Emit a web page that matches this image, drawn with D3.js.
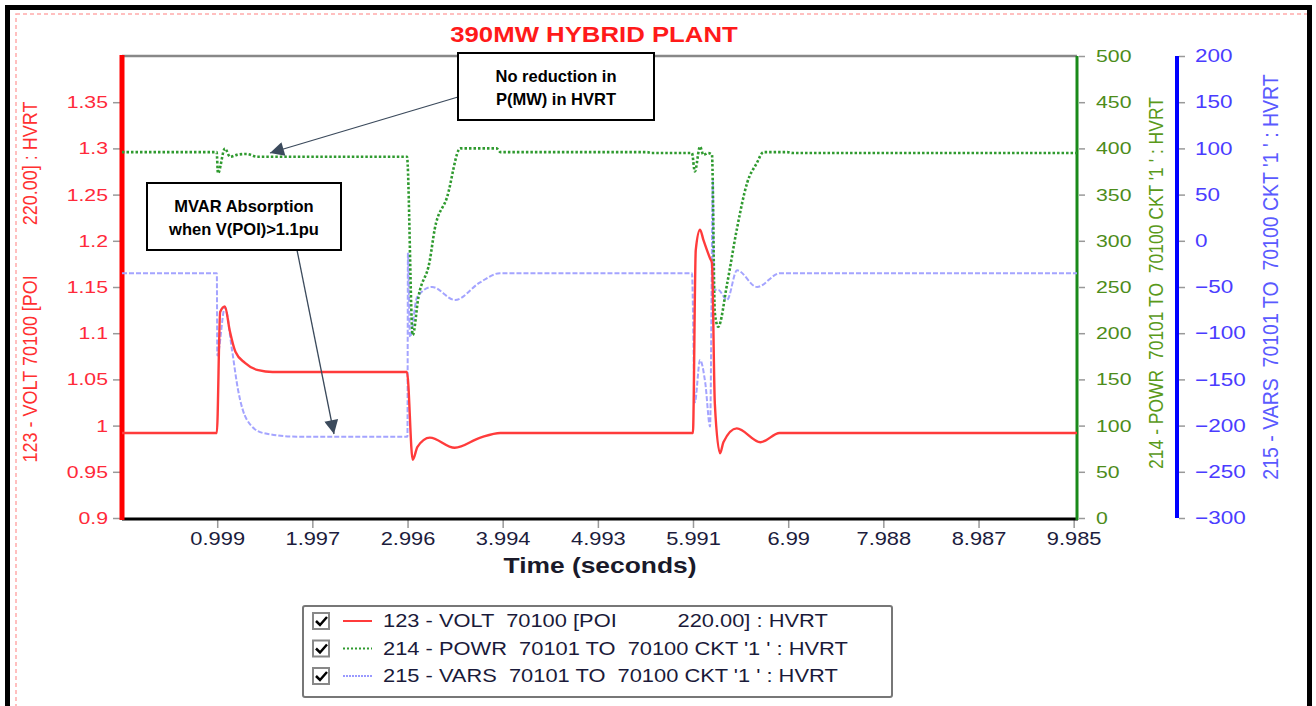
<!DOCTYPE html>
<html>
<head>
<meta charset="utf-8">
<script src="https://cdn.jsdelivr.net/npm/d3@7"></script>
<style>
  body { margin: 0; background: #fff; }
  svg text { font-family: "Liberation Sans", Arial, sans-serif; }
</style>
</head>
<body>
<svg id="chart" width="1316" height="706"></svg>
<script>
// ---- data ----
const timeTicks = [0.999, 1.997, 2.996, 3.994, 4.993, 5.991, 6.99, 7.988, 8.987, 9.985];
const voltTicks = [0.9, 0.95, 1, 1.05, 1.1, 1.15, 1.2, 1.25, 1.3, 1.35];
const powrTicks = [0, 50, 100, 150, 200, 250, 300, 350, 400, 450, 500];
const varsTicks = [-300, -250, -200, -150, -100, -50, 0, 50, 100, 150, 200];

const voltT = [0, 0.995, 1.03, 1.08, 1.13, 1.19, 1.29, 1.43, 1.58, 2.99, 3.05, 3.10, 3.23, 3.49, 3.76, 3.97,
  5.99, 6.02, 6.065, 6.10, 6.17, 6.19, 6.22, 6.275, 6.31, 6.45, 6.70, 6.90, 10.02];
const voltV = [0.992, 0.992, 1.123, 1.129, 1.103, 1.080, 1.068, 1.060, 1.058, 1.058, 0.963, 0.977, 0.987, 0.976, 0.987, 0.992,
  0.992, 1.190, 1.212, 1.201, 1.181, 1.176, 1.024, 0.970, 0.982, 0.997, 0.982, 0.992, 0.992];

const powrT = [0, 0.993, 1.007, 1.08, 1.133, 1.204, 1.309, 1.414, 2.99, 3.05, 3.11, 3.23, 3.28, 3.41, 3.55, 3.93, 3.97,
  5.51, 5.55, 5.98, 6.01, 6.065, 6.10, 6.15, 6.19, 6.22, 6.255, 6.35, 6.45, 6.56, 6.66, 6.73, 6.98, 7.04, 10.02];
const powrV = [396, 396, 373, 400, 391, 393, 394, 391, 391, 198, 239, 279, 312, 347, 400, 400, 396,
  396, 395, 395, 375, 402, 393, 395, 393, 222, 207, 254, 312, 363, 384, 396, 396, 395, 395];

const varsT = [0, 0.995, 1.0, 1.08, 1.154, 1.217, 1.312, 1.48, 1.836, 2.995, 3.0, 3.022, 3.096, 3.253, 3.494, 3.757, 3.966,
  5.98, 6.01, 6.065, 6.12, 6.17, 6.20, 6.21, 6.254, 6.348, 6.453, 6.663, 6.905, 10.02];
const varsV = [-35, -35, -124, -72, -118, -161, -194, -208, -212, -212, -13, -104, -61, -50, -64, -45, -35,
  -35, -175, -129, -154, -201, 66, -53, -53, -64, -32, -50, -35, -35];

const legendLabels = [
  "123 - VOLT  70100 [POI          220.00] : HVRT",
  "214 - POWR  70101 TO  70100 CKT '1 ' : HVRT",
  "215 - VARS  70101 TO  70100 CKT '1 ' : HVRT"
];

// ---- layout ----
const plot = { left: 122, right: 1077, top: 56, bottom: 518 };
const colors = {
  volt: '#ff3b3b', powr: '#2f9a2f', vars: '#a4a4ff',
  voltText: '#ff2a3a', powrText: '#4d8c1a', varsText: '#4a3cff'
};
const SX = 1.25; // the source text is drawn wide

const svg = d3.select('#chart');

// stretch text horizontally around its anchor
function stretch(sel, sx) {
  sel.each(function() {
    const t = d3.select(this);
    const x0 = +t.attr('x') || 0, y0 = +t.attr('y') || 0;
    t.attr('transform', `translate(${x0},${y0}) scale(${sx},1)`).attr('x', 0).attr('y', 0);
  });
}

// frames
svg.append('rect')
  .attr('x', 16).attr('y', 14).attr('width', 1293).attr('height', 720)
  .attr('fill', 'none').attr('stroke', '#ffaaaa').attr('stroke-width', 1.5)
  .attr('stroke-dasharray', '4,3');
svg.append('rect')
  .attr('x', 7.5).attr('y', 7.5).attr('width', 1302).attr('height', 720)
  .attr('fill', 'none').attr('stroke', '#000').attr('stroke-width', 5);

const x = d3.scaleLinear().domain([0, 10.02]).range([plot.left, plot.right]);
const yV = d3.scaleLinear().domain([0.9, 1.4]).range([plot.bottom, plot.top]);
const yP = d3.scaleLinear().domain([0, 500]).range([plot.bottom, plot.top]);
const yQ = d3.scaleLinear().domain([-300, 200]).range([plot.bottom, plot.top]);

// title
svg.append('text')
  .attr('x', 594).attr('y', 42)
  .attr('text-anchor', 'middle')
  .attr('font-size', 23).attr('font-weight', 'bold')
  .attr('fill', '#ff1a1a')
  .text('390MW HYBRID PLANT')
  .call(stretch, 1.12);

// axes
function styleAxis(g, textColor, size) {
  g.select('path.domain').remove();
  g.selectAll('.tick line').attr('stroke', '#999').attr('stroke-width', 1.5);
  g.selectAll('.tick text').attr('fill', textColor).attr('font-size', size)
    .attr('font-family', '"Liberation Sans", Arial, sans-serif')
    .call(stretch, SX);
}

svg.append('g')
  .attr('transform', `translate(${plot.left - 2},0)`)
  .call(d3.axisLeft(yV).tickValues(voltTicks).tickSize(7).tickPadding(5).tickFormat(d3.format('~g')))
  .call(g => styleAxis(g, colors.voltText, 17));

svg.append('g')
  .attr('transform', `translate(${plot.right + 2},0)`)
  .call(d3.axisRight(yP).tickValues(powrTicks).tickSize(6).tickPadding(11))
  .call(g => styleAxis(g, colors.powrText, 17));

svg.append('g')
  .attr('transform', `translate(${plot.right + 102},0)`)
  .call(d3.axisRight(yQ).tickValues(varsTicks).tickSize(6).tickPadding(10))
  .call(g => styleAxis(g, colors.varsText, 18));

svg.append('g')
  .attr('transform', `translate(0,${plot.bottom + 2})`)
  .call(d3.axisBottom(x).tickValues(timeTicks).tickSize(8).tickPadding(5).tickFormat(d3.format('~g')))
  .call(g => styleAxis(g, '#1c1c3c', 17.5));

// axis lines
svg.append('line').attr('x1', plot.left).attr('x2', plot.right)
  .attr('y1', plot.top).attr('y2', plot.top).attr('stroke', '#888').attr('stroke-width', 2.5);
svg.append('line').attr('x1', plot.left).attr('x2', plot.right + 1)
  .attr('y1', plot.bottom + 1).attr('y2', plot.bottom + 1).attr('stroke', '#000').attr('stroke-width', 3);
svg.append('line').attr('x1', plot.left).attr('x2', plot.left)
  .attr('y1', plot.top - 1).attr('y2', plot.bottom + 2).attr('stroke', '#ff0000').attr('stroke-width', 5);
svg.append('line').attr('x1', plot.right).attr('x2', plot.right)
  .attr('y1', plot.top).attr('y2', plot.bottom + 2).attr('stroke', '#1a8a1a').attr('stroke-width', 3);
svg.append('line').attr('x1', plot.right + 100).attr('x2', plot.right + 100)
  .attr('y1', plot.top).attr('y2', plot.bottom).attr('stroke', '#0000ff').attr('stroke-width', 4);

// axis titles
function rotTitle(cx, cy, txt, color, size) {
  svg.append('text')
    .attr('transform', `translate(${cx},${cy}) rotate(-90) scale(1,1.15)`)
    .attr('text-anchor', 'middle').attr('dy', '0.35em')
    .attr('font-size', size).attr('fill', color)
    .style('white-space', 'pre')
    .text(txt);
}
rotTitle(30, 282, '123 - VOLT 70100 [POI          220.00] : HVRT', '#ff3030', 18);
rotTitle(1156, 283, "214 - POWR  70101 TO  70100 CKT '1 ' : HVRT", '#5a9a1a', 17.5);
rotTitle(1270, 277, "215 - VARS  70101 TO  70100 CKT '1 ' : HVRT", '#5a5aff', 19.5);

svg.append('text')
  .attr('x', 600).attr('y', 573)
  .attr('text-anchor', 'middle')
  .attr('font-size', 22).attr('font-weight', 'bold').attr('fill', '#1a1a2a')
  .text('Time (seconds)')
  .call(stretch, 1.2);

// series
svg.append('clipPath').attr('id', 'plotclip')
  .append('rect').attr('x', plot.left).attr('y', plot.top)
  .attr('width', plot.right - plot.left).attr('height', plot.bottom - plot.top);

const series = [
  { t: varsT, v: varsV, y: yQ, color: colors.vars, dash: '5,2', w: 2 },
  { t: powrT, v: powrV, y: yP, color: colors.powr, dash: '2.5,2', w: 2.6 },
  { t: voltT, v: voltV, y: yV, color: colors.volt, dash: null, w: 2.4 }
];
const lines = svg.append('g').attr('clip-path', 'url(#plotclip)');
series.forEach(s => {
  const line = d3.line()
    .x((d, i) => x(s.t[i]))
    .y(d => s.y(d))
    .curve(d3.curveMonotoneX);
  lines.append('path')
    .attr('d', line(s.v))
    .attr('fill', 'none')
    .attr('stroke', s.color)
    .attr('stroke-width', s.w)
    .attr('stroke-dasharray', s.dash)
    .attr('stroke-linejoin', 'round');
});

// annotations
svg.append('defs').append('marker')
  .attr('id', 'arrow').attr('viewBox', '0 0 10 10')
  .attr('refX', 10).attr('refY', 5)
  .attr('markerWidth', 15).attr('markerHeight', 14)
  .attr('markerUnits', 'userSpaceOnUse')
  .attr('orient', 'auto')
  .append('path').attr('d', 'M0,0 L10,5 L0,10 z').attr('fill', '#3b4a5c');

function note(bx, by, bw, bh, lines2, from, to) {
  svg.append('line')
    .attr('x1', from[0]).attr('y1', from[1]).attr('x2', to[0]).attr('y2', to[1])
    .attr('stroke', '#3b4a5c').attr('stroke-width', 1.3)
    .attr('marker-end', 'url(#arrow)');
  svg.append('rect')
    .attr('x', bx).attr('y', by).attr('width', bw).attr('height', bh)
    .attr('fill', '#fff').attr('stroke', '#000').attr('stroke-width', 2);
  lines2.forEach((l, i) => {
    svg.append('text')
      .attr('x', bx + bw / 2).attr('y', by + 29 + i * 23)
      .attr('text-anchor', 'middle')
      .attr('font-size', 16.5).attr('font-weight', 'bold').attr('fill', '#000')
      .text(l);
  });
}
note(458, 53, 196, 67, ['No reduction in', 'P(MW) in HVRT'], [458, 97], [270, 153]);
note(147, 183, 194, 67, ['MVAR Absorption', 'when V(POI)>1.1pu'], [297, 250], [334, 434]);

// legend
const lg = svg.append('g');
lg.append('rect')
  .attr('x', 303).attr('y', 606).attr('width', 589).attr('height', 91).attr('rx', 2)
  .attr('fill', '#fff').attr('stroke', '#777').attr('stroke-width', 2);
const legendStyles = [
  { color: colors.volt, dash: null, w: 2 },
  { color: colors.powr, dash: '2,2', w: 2 },
  { color: '#9a9aff', dash: '2,1', w: 2 }
];
legendLabels.forEach((lab, i) => {
  const cy = 621 + i * 27.5;
  lg.append('rect')
    .attr('x', 313).attr('y', cy - 8).attr('width', 16).attr('height', 16)
    .attr('fill', '#fff').attr('stroke', '#888').attr('stroke-width', 2);
  lg.append('path')
    .attr('d', `M316,${cy} L320,${cy + 4} L327,${cy - 4}`)
    .attr('fill', 'none').attr('stroke', '#000').attr('stroke-width', 2.5);
  lg.append('line')
    .attr('x1', 343).attr('x2', 372).attr('y1', cy).attr('y2', cy)
    .attr('stroke', legendStyles[i].color).attr('stroke-width', legendStyles[i].w)
    .attr('stroke-dasharray', legendStyles[i].dash);
  lg.append('text')
    .attr('x', 383).attr('y', cy).attr('dy', '0.36em')
    .attr('font-size', 17.5).attr('fill', '#1a1a3a')
    .style('white-space', 'pre')
    .text(lab)
    .call(stretch, SX);
});
</script>
</body>
</html>
